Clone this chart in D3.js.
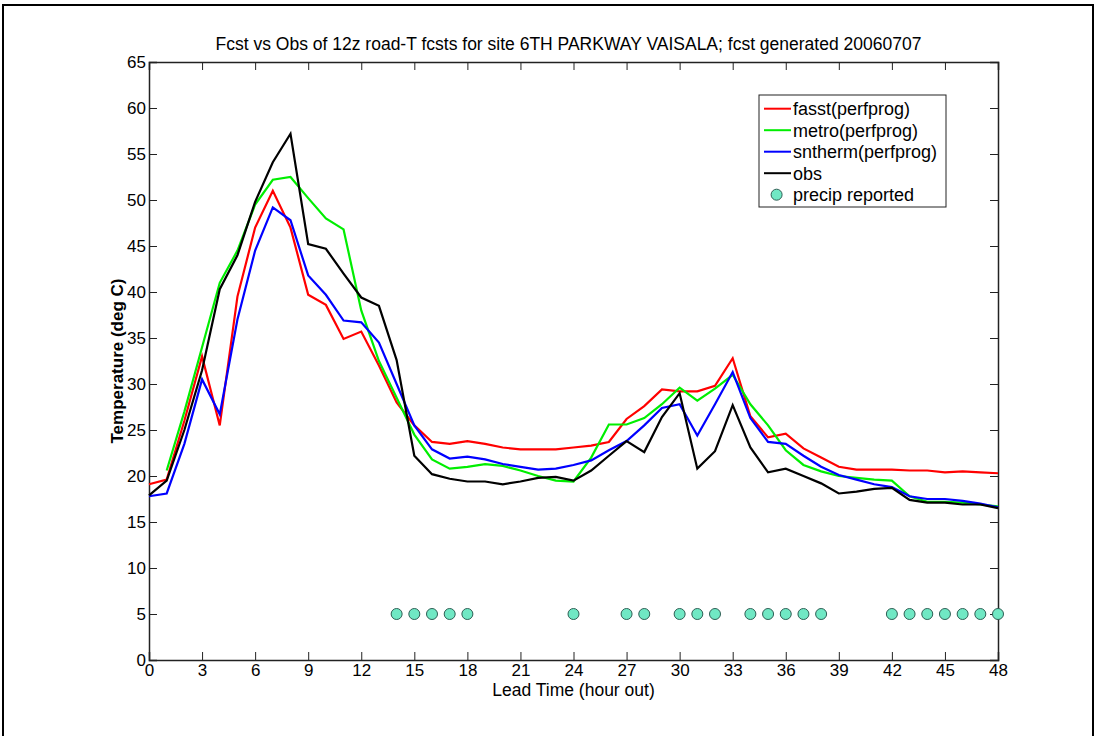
<!DOCTYPE html>
<html>
<head>
<meta charset="utf-8">
<script src="https://cdn.jsdelivr.net/npm/d3@7"></script>
<style>
    body { margin: 0; background: white; }
    text { font-family: "Liberation Sans", Arial, sans-serif; }
</style>
</head>
<body>
<div id="chart"></div>
<script>
// Lead time hours 0..48
const hours = d3.range(0, 49);

const fasst = [19.1, 19.6, 26, 33, 25.5, 39.5, 47, 51, 47, 39.7, 38.6, 34.9, 35.7, 32, 28, 25.5, 23.7,
    23.5, 23.8, 23.5, 23.1, 22.9, 22.9, 22.9, 23.1, 23.3, 23.7, 26.2, 27.6, 29.4, 29.2, 29.2, 29.8,
    32.8, 26.5, 24.2, 24.6, 23, 22, 21, 20.7, 20.7, 20.7, 20.6, 20.6, 20.4, 20.5, 20.4, 20.3];

const metro = [null, 20.6, 27, 34, 41, 44.5, 49.5, 52.2, 52.5, 50.2, 48, 46.8, 38, 32.5, 28.5, 24.5, 21.8,
    20.8, 21, 21.3, 21.1, 20.6, 20, 19.5, 19.4, 22, 25.6, 25.6, 26.3, 27.8, 29.6, 28.2, 29.5,
    31, 27.8, 25.5, 22.8, 21.2, 20.5, 20, 19.8, 19.6, 19.5, 17.8, 17.2, 17.2, 17.1, 16.9, 16.7];

const sntherm = [17.8, 18.1, 23.5, 30.5, 26.7, 37, 44.5, 49.2, 47.8, 41.8, 39.7, 36.9, 36.7, 34.5, 30, 25.5, 22.9,
    21.9, 22.1, 21.8, 21.3, 21, 20.7, 20.8, 21.2, 21.7, 22.8, 23.8, 25.5, 27.4, 27.8, 24.4, 27.8,
    31.3, 26.3, 23.7, 23.5, 22.2, 21, 20.1, 19.6, 19.1, 18.8, 17.8, 17.5, 17.5, 17.3, 17.0, 16.6];

const obs = [17.9, 19.5, 25, 31.5, 40.3, 44, 49.8, 54.1, 57.2, 45.2, 44.7, 42, 39.4, 38.5, 32.6, 22.2, 20.2,
    19.7, 19.4, 19.4, 19.1, 19.4, 19.8, 19.9, 19.5, 20.6, 22.2, 23.8, 22.6, 26.4, 29, 20.8, 22.7,
    27.7, 23.1, 20.4, 20.8, 20, 19.2, 18.1, 18.3, 18.6, 18.7, 17.4, 17.1, 17.1, 16.9, 16.9, 16.5];

// Hours with precip reported (plotted at 5 deg)
const precipHours = [14, 15, 16, 17, 18, 24, 27, 28, 30, 31, 32, 34, 35, 36, 37, 38, 42, 43, 44, 45, 46, 47, 48];
const precipLevel = 5;

const xTicks = d3.range(0, 49, 3);
const yTicks = d3.range(0, 66, 5);

const series = [
    {name: "fasst(perfprog)", values: fasst, color: "#ff0000"},
    {name: "metro(perfprog)", values: metro, color: "#00ee00"},
    {name: "sntherm(perfprog)", values: sntherm, color: "#0000ff"},
    {name: "obs", values: obs, color: "#000000"}
];

// Set up SVG
const W = 1097, H = 736;
const margin = {top: 62, right: 99, bottom: 76, left: 149};
const width = W - margin.left - margin.right;
const height = H - margin.top - margin.bottom;

const svg = d3.select("#chart")
    .append("svg")
    .attr("width", W)
    .attr("height", H);

// Outer frame
svg.append("path")
    .attr("d", `M3,${H} L3,5 L1093,5 L1093,${H}`)
    .attr("fill", "none")
    .attr("stroke", "black")
    .attr("stroke-width", 2);

const g = svg.append("g")
    .attr("transform", `translate(${margin.left},${margin.top})`);

const x = d3.scaleLinear().domain([0, 48]).range([0, width]);
const y = d3.scaleLinear().domain([0, 65]).range([height, 0]);

const axisColor = "#222";
const tickLen = 8;
const fontSize = "17.5px";

// Axes with inward ticks on all four sides
const bottomAxis = g.append("g")
    .attr("transform", `translate(0,${height})`)
    .call(d3.axisBottom(x).tickValues(xTicks).tickSize(-tickLen).tickPadding(4));
const topAxis = g.append("g")
    .call(d3.axisTop(x).tickValues(xTicks).tickSize(-tickLen).tickFormat(""));
const leftAxis = g.append("g")
    .call(d3.axisLeft(y).tickValues(yTicks).tickSize(-tickLen).tickPadding(3));
const rightAxis = g.append("g")
    .attr("transform", `translate(${width},0)`)
    .call(d3.axisRight(y).tickValues(yTicks).tickSize(-tickLen).tickFormat(""));

[bottomAxis, topAxis, leftAxis, rightAxis].forEach(a => {
    a.select(".domain").attr("stroke", axisColor).attr("stroke-width", 1.5);
    a.selectAll(".tick line").attr("stroke", axisColor);
    a.selectAll(".tick text")
        .attr("fill", "black")
        .style("font-size", "17px");
});

// Series lines
const line = d3.line()
    .defined(d => d.v !== null)
    .x(d => x(d.h))
    .y(d => y(d.v));

series.forEach(s => {
    g.append("path")
        .datum(hours.map((h, i) => ({h: h, v: s.values[i]})))
        .attr("d", line)
        .attr("fill", "none")
        .attr("stroke", s.color)
        .attr("stroke-width", 2.2)
        .attr("stroke-linejoin", "miter");
});

// Precip markers
g.selectAll(".precip")
    .data(precipHours)
    .enter()
    .append("circle")
    .attr("class", "precip")
    .attr("cx", d => x(d))
    .attr("cy", y(precipLevel))
    .attr("r", 5.5)
    .attr("fill", "#70e8c4")
    .attr("stroke", "#2f5f55")
    .attr("stroke-width", 1);

// Title and axis labels
svg.append("text")
    .attr("x", margin.left + width / 2 - 5)
    .attr("y", 50)
    .attr("text-anchor", "middle")
    .style("font-size", fontSize)
    .text("Fcst vs Obs of 12z road-T fcsts for site 6TH PARKWAY VAISALA; fcst generated 20060707");

svg.append("text")
    .attr("x", margin.left + width / 2)
    .attr("y", 696)
    .attr("text-anchor", "middle")
    .style("font-size", fontSize)
    .text("Lead Time (hour out)");

svg.append("text")
    .attr("transform", "translate(123,361) rotate(-90)")
    .attr("text-anchor", "middle")
    .style("font-size", "17px")
    .style("font-weight", "bold")
    .text("Temperature (deg C)");

// Legend
const legend = svg.append("g").attr("transform", "translate(759,95)");
legend.append("rect")
    .attr("width", 187)
    .attr("height", 112)
    .attr("fill", "white")
    .attr("stroke", axisColor)
    .attr("stroke-width", 1);

series.forEach((s, i) => {
    const ly = 13.7 + i * 21.5;
    legend.append("line")
        .attr("x1", 5).attr("x2", 32)
        .attr("y1", ly).attr("y2", ly)
        .attr("stroke", s.color)
        .attr("stroke-width", 2);
    legend.append("text")
        .attr("x", 34)
        .attr("y", ly)
        .attr("dy", "0.35em")
        .style("font-size", "18px")
        .text(s.name);
});
const py = 13.7 + 4 * 21.5;
legend.append("circle")
    .attr("cx", 17.6)
    .attr("cy", py)
    .attr("r", 5.5)
    .attr("fill", "#70e8c4")
    .attr("stroke", "#2f5f55");
legend.append("text")
    .attr("x", 34)
    .attr("y", py)
    .attr("dy", "0.35em")
    .style("font-size", "18px")
    .text("precip reported");
</script>
</body>
</html>
